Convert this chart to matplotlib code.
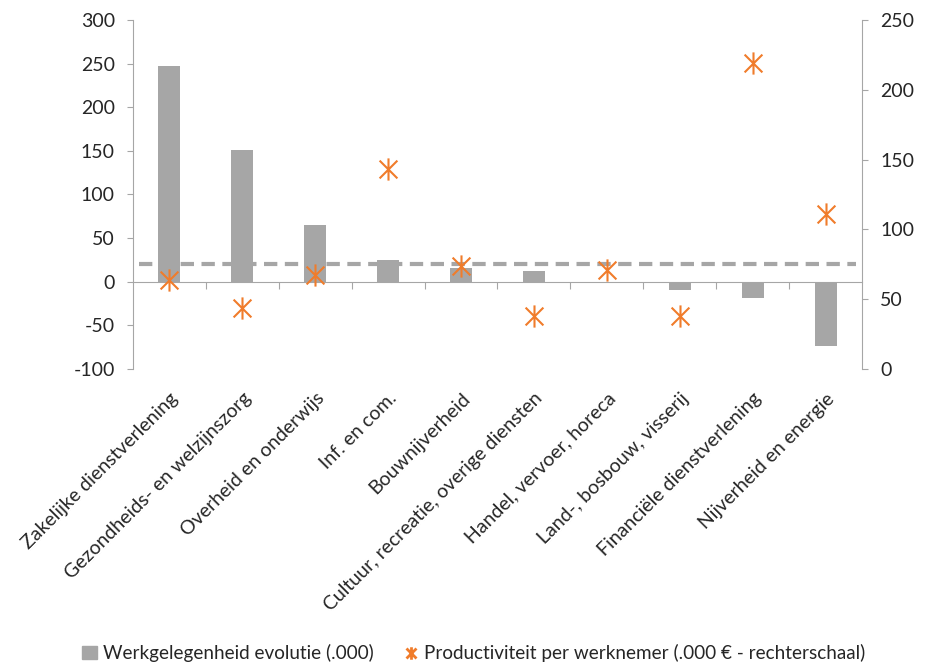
import matplotlib
matplotlib.use("Agg")
import matplotlib.pyplot as plt
from matplotlib.path import Path
from matplotlib.lines import Line2D
from matplotlib.patches import Patch

plt.rcParams['font.family'] = ['Lato', 'DejaVu Sans']
plt.rcParams['axes.unicode_minus'] = False

sectors = ["Zakelijke dienstverlening", "Gezondheids- en welzijnszorg",
           "Overheid en onderwijs", "Inf. en com.", "Bouwnijverheid",
           "Cultuur, recreatie, overige diensten", "Handel, vervoer, horeca",
           "Land-, bosbouw, visserij", "Financiële dienstverlening",
           "Nijverheid en energie"]
jobs = [247, 151, 65, 25, 16, 12, 0, -9, -19, -74]
productivity = [64, 44, 67, 143, 74, 38, 71, 38, 219, 111]
avg_productivity = 75

bar_color = '#a6a6a6'
star_color = '#f07c2b'
axis_color = '#a6a6a6'
text_color = '#262626'

# asterisk: vertical stroke plus an x
star = Path([(0, -1), (0, 1), (-0.8, -0.8), (0.8, 0.8), (-0.8, 0.8), (0.8, -0.8)],
            [Path.MOVETO, Path.LINETO] * 3)

fig = plt.figure(figsize=(9.29, 6.68), dpi=100)
ax = fig.add_axes([0.143, 0.4476, 0.785, 0.5225])
ax2 = ax.twinx()

x = list(range(len(sectors)))
ax.bar(x, jobs, width=0.3, color=bar_color, zorder=2)
ax.set_xlim(-0.5, len(sectors) - 0.5)
ax.set_ylim(-100, 300)
ax.set_yticks(range(-100, 301, 50))

ax2.set_ylim(0, 250)
ax2.set_yticks(range(0, 251, 50))
ax2.axhline(avg_productivity, xmin=0.008, xmax=0.992, color=axis_color, lw=3,
            dashes=(3.2, 1.8), zorder=3)
ax2.plot(x, productivity, linestyle='none', marker=star, markersize=16,
         markeredgewidth=1.5, color=star_color, zorder=4)

for a in (ax, ax2):
    a.spines['top'].set_visible(False)
    a.spines['bottom'].set_visible(False)
    a.tick_params(axis='y', direction='out', length=4, color=axis_color,
                  labelsize=14, labelcolor=text_color, pad=9)
ax.spines['left'].set_color(axis_color)
ax.spines['right'].set_visible(False)
ax2.spines['left'].set_visible(False)
ax2.spines['right'].set_color(axis_color)

ax.set_xticks(x)
ax.set_xticklabels(sectors, rotation=45, ha='right', rotation_mode='anchor',
                   fontsize=14, color=text_color)
ax.tick_params(axis='x', length=0, pad=15)

# zero line with category separators
zero = ax.secondary_xaxis(0.25)
zero.spines['bottom'].set_color(axis_color)
zero.set_xticks([i + 0.5 for i in x[:-1]])
zero.tick_params(axis='x', direction='out', length=5, color=axis_color,
                 labelbottom=False)

handles = [Patch(color=bar_color),
           Line2D([], [], linestyle='none', marker=star, markersize=9,
                  markeredgewidth=2, color=star_color)]
labels = ["Werkgelegenheid evolutie (.000)",
          "Productiviteit per werknemer (.000 € - rechterschaal)"]
fig.legend(handles, labels, loc='center', bbox_to_anchor=(0.51, 0.022), ncol=2,
           frameon=False, fontsize=13.6, handlelength=0.8, handletextpad=0.3,
           columnspacing=1.6, labelcolor=text_color)

fig.savefig('out.png', dpi=100)
